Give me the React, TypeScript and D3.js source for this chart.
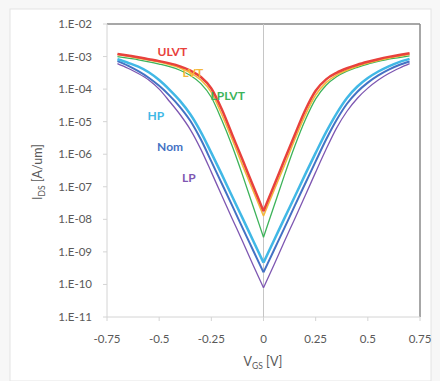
import React from "react";
import * as d3 from "d3";

const vgs = [-0.7,-0.65,-0.6,-0.55,-0.5,-0.45,-0.4,-0.35,-0.3,-0.25,-0.2,-0.15,-0.1,-0.05,0,0.05,0.1,0.15,0.2,0.25,0.3,0.35,0.4,0.45,0.5,0.55,0.6,0.65,0.7];

// log10 of I_DS [A/um]
const ulvt = [-2.92,-2.97,-3.02,-3.08,-3.14,-3.21,-3.3,-3.43,-3.63,-3.98,-4.62,-5.4,-6.18,-6.97,-7.75,-6.97,-6.18,-5.4,-4.65,-4.05,-3.7,-3.5,-3.36,-3.25,-3.16,-3.08,-3.01,-2.95,-2.9];
const lvt = [-2.94,-2.99,-3.05,-3.11,-3.17,-3.25,-3.35,-3.5,-3.72,-4.1,-4.78,-5.55,-6.35,-7.12,-7.9,-7.12,-6.35,-5.55,-4.8,-4.18,-3.8,-3.57,-3.42,-3.3,-3.2,-3.12,-3.05,-2.99,-2.93];
const lplvt = [-3.0,-3.05,-3.1,-3.16,-3.23,-3.31,-3.42,-3.58,-3.83,-4.25,-4.95,-5.75,-6.65,-7.6,-8.55,-7.6,-6.65,-5.75,-4.95,-4.3,-3.88,-3.62,-3.45,-3.33,-3.23,-3.15,-3.08,-3.03,-2.98];
const hp = [-3.08,-3.19,-3.31,-3.48,-3.72,-4.02,-4.36,-4.78,-5.32,-5.96,-6.62,-7.3,-7.97,-8.65,-9.33,-8.65,-7.97,-7.3,-6.62,-5.96,-5.32,-4.75,-4.27,-3.92,-3.66,-3.46,-3.3,-3.17,-3.07];
const nom = [-3.14,-3.28,-3.45,-3.65,-3.9,-4.2,-4.55,-4.98,-5.55,-6.22,-6.9,-7.58,-8.27,-8.95,-9.63,-8.95,-8.27,-7.58,-6.9,-6.22,-5.55,-4.95,-4.45,-4.08,-3.8,-3.58,-3.4,-3.26,-3.15];
const lp = [-3.22,-3.36,-3.52,-3.72,-4.0,-4.38,-4.78,-5.25,-5.85,-6.55,-7.27,-7.98,-8.68,-9.4,-10.1,-9.4,-8.68,-7.98,-7.27,-6.55,-5.85,-5.2,-4.68,-4.28,-3.97,-3.72,-3.52,-3.36,-3.22];

const seriesNames = ["LP", "Nom", "HP", "LPLVT", "LVT", "ULVT"];
const seriesValues = [lp, nom, hp, lplvt, lvt, ulvt];
const seriesColors = ["#7E57B2", "#4472C4", "#41B8E6", "#3DB35A", "#F4B83A", "#E8413C"];
const seriesWidths = [1.3, 2, 2.5, 1.3, 1.5, 2.5];

const xTicks = [-0.75, -0.5, -0.25, 0, 0.25, 0.5, 0.75];
const xTickLabels = ["-0.75", "-0.5", "-0.25", "0", "0.25", "0.5", "0.75"];
const yTicks = [1e-11, 1e-10, 1e-9, 1e-8, 1e-7, 1e-6, 1e-5, 1e-4, 1e-3, 1e-2];
const yTickLabels = ["1.E-11", "1.E-10", "1.E-09", "1.E-08", "1.E-07", "1.E-06", "1.E-05", "1.E-04", "1.E-03", "1.E-02"];

// label anchor positions in data space (V, I) — left edge of text
const labelV = [-0.39, -0.51, -0.556, -0.254, -0.388, -0.508];
const labelI = [1.86e-7, 1.66e-6, 1.5e-5, 6.2e-5, 3.2e-4, 1.38e-3];

const FONT = "Lato, 'Open Sans', 'Liberation Sans', sans-serif";

export default function App() {
  const L = 107, R = 420, T = 24, B = 317;
  const x = d3.scaleLinear().domain([-0.75, 0.75]).range([L, R]);
  const y = d3.scaleLog().domain([1e-11, 1e-2]).range([B, T]);

  const line = d3
    .line<[number, number]>()
    .x((d) => x(d[0]))
    .y((d) => y(Math.pow(10, d[1])))
    .curve(d3.curveMonotoneX);

  const mid = vgs.indexOf(0);
  const paths = seriesValues.map((vals) => {
    const pts: [number, number][] = vgs.map((v, i) => [v, vals[i]]);
    return (line(pts.slice(0, mid + 1)) || "") + (line(pts.slice(mid)) || "");
  });

  return (
    <svg
      width={440}
      height={381}
      style={{ position: "absolute", left: 0, top: 0, background: "#f7f7f7" }}
      fontFamily={FONT}
    >
      <rect x={10} y={9} width={421} height={372} fill="#ffffff" stroke="#e4e4e4" />
      {/* plot area borders */}
      <line x1={L} x2={R} y1={T} y2={T} stroke="#8a8a8a" strokeWidth={1.5} />
      <line x1={R} x2={R} y1={T} y2={B} stroke="#8a8a8a" strokeWidth={1.5} />
      <line x1={L} x2={L} y1={T} y2={B} stroke="#d4d4d4" strokeWidth={1} />
      <line x1={L} x2={R} y1={B} y2={B} stroke="#d4d4d4" strokeWidth={1} />
      {/* zero line */}
      <line x1={x(0)} x2={x(0)} y1={T} y2={B} stroke="#c6c6c6" strokeWidth={1} />
      {yTicks.map((t, i) => (
        <g key={"yt" + i}>
          <line x1={L - 4} x2={L} y1={y(t)} y2={y(t)} stroke="#d4d4d4" />
          <text x={92} y={y(t)} dy="0.35em" textAnchor="end" fontSize={11.5} fill="#595959">
            {yTickLabels[i]}
          </text>
        </g>
      ))}
      {xTicks.map((t, i) => (
        <g key={"xt" + i}>
          <line x1={x(t)} x2={x(t)} y1={B} y2={B + 4} stroke="#d4d4d4" />
          <text x={x(t)} y={339} dy="0.35em" textAnchor="middle" fontSize={11.5} fill="#595959">
            {xTickLabels[i]}
          </text>
        </g>
      ))}
      {paths.map((p, i) => (
        <path
          key={"s" + i}
          d={p}
          fill="none"
          stroke={seriesColors[i]}
          strokeWidth={seriesWidths[i]}
          strokeLinejoin="round"
        />
      ))}
      {seriesNames.map((n, i) => (
        <text
          key={"lb" + i}
          x={x(labelV[i])}
          y={y(labelI[i])}
          dy="0.35em"
          fontSize={12}
          fontWeight="bold"
          fill={seriesColors[i]}
        >
          {n}
        </text>
      ))}
      {/* axis titles */}
      <text x={263} y={362} dy="0.35em" textAnchor="middle" fontSize={12.5} fill="#595959">
        V<tspan fontSize={8.5} dy="3">GS</tspan>
        <tspan dy="-3"> [V]</tspan>
      </text>
      <text
        transform={`translate(38,172) rotate(-90)`}
        textAnchor="middle"
        fontSize={12.5}
        fill="#595959"
        dy="0.35em"
      >
        I<tspan fontSize={8.5} dy="3">DS</tspan>
        <tspan dy="-3"> [A/um]</tspan>
      </text>
    </svg>
  );
}
